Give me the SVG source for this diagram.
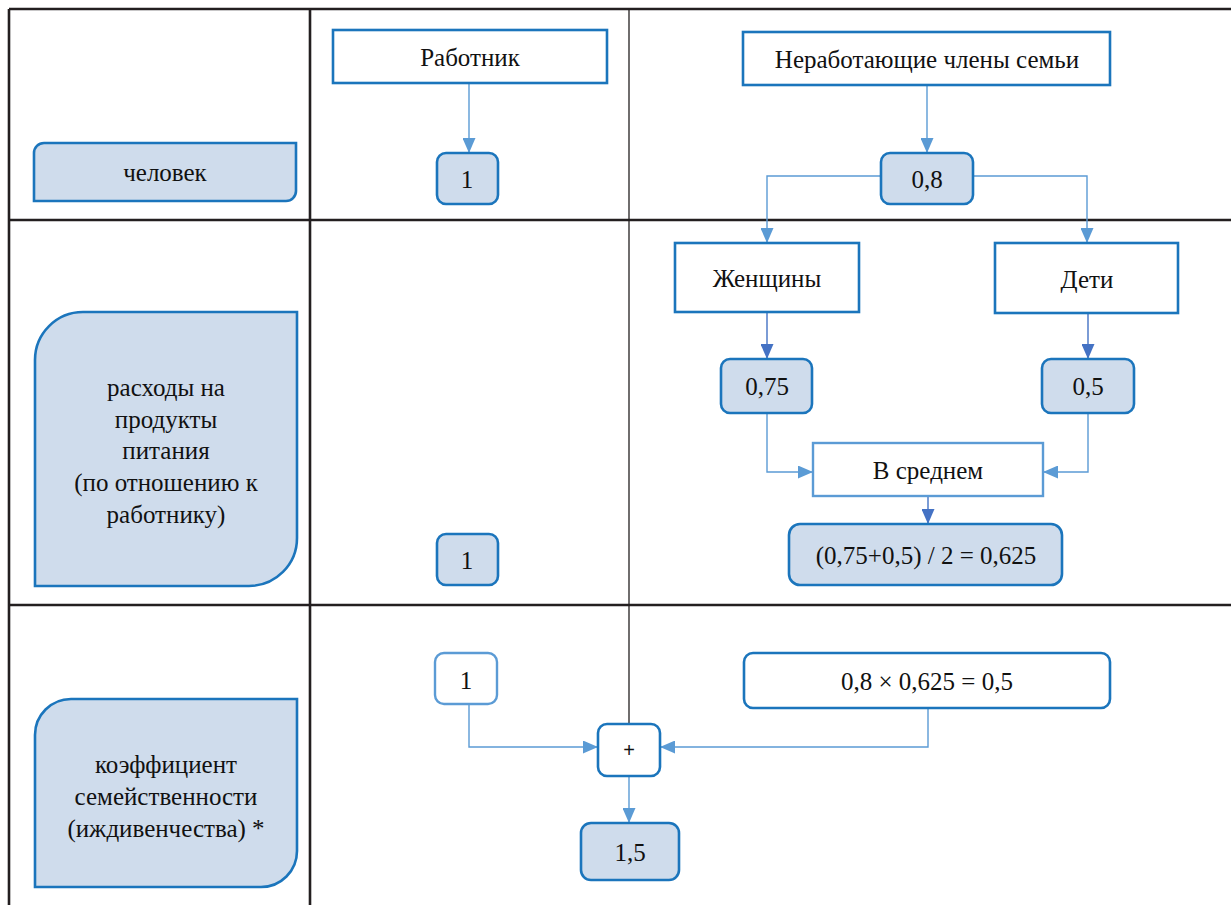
<svg xmlns="http://www.w3.org/2000/svg" width="1231" height="905" viewBox="0 0 1231 905">
<defs>
<style>
.grid{stroke:#231f20;stroke-width:2.6;fill:none}
.gridthin{stroke:#231f20;stroke-width:1.3;fill:none}
.box{fill:#ffffff;stroke:#1b75bc;stroke-width:2.6}
.boxl{fill:#ffffff;stroke:#5b9bd5;stroke-width:2.4}
.val{fill:#cfdcec;stroke:#1b75bc;stroke-width:2.6}
.lab{fill:#cfdcec;stroke:#1b75bc;stroke-width:2.6}
.t{font-family:'Liberation Serif','DejaVu Serif',serif;font-size:25px;fill:#111;text-anchor:middle}
.tp{font-family:'Liberation Sans','DejaVu Sans',sans-serif;font-size:20px;fill:#111;text-anchor:middle}
.c{fill:none;stroke:#5b9bd5;stroke-width:1.4}
.cd{fill:none;stroke:#4472c4;stroke-width:1.4}
</style>
<marker id="al" markerUnits="userSpaceOnUse" markerWidth="15" markerHeight="13" refX="15" refY="6.5" orient="auto"><path d="M0,0 L15,6.5 L0,13 Z" fill="#5b9bd5"/></marker>
<marker id="ad" markerUnits="userSpaceOnUse" markerWidth="15" markerHeight="13" refX="15" refY="6.5" orient="auto"><path d="M0,0 L15,6.5 L0,13 Z" fill="#4472c4"/></marker>
</defs>
<rect x="0" y="0" width="1231" height="905" fill="#ffffff"/>
<g id="grid">
<line class="grid" x1="9" y1="9" x2="1231" y2="9"/>
<line class="grid" x1="9" y1="220" x2="1231" y2="220"/>
<line class="grid" x1="9" y1="605" x2="1231" y2="605"/>
<line class="grid" x1="9" y1="9" x2="9" y2="905"/>
<line class="grid" x1="310" y1="9" x2="310" y2="905"/>
<line class="gridthin" x1="629" y1="9" x2="629" y2="724"/>
</g>
<g id="connectors">
<path class="c" d="M469,83 V153" marker-end="url(#al)"/>
<path class="c" d="M927,85 V153" marker-end="url(#al)"/>
<path class="c" d="M881,176 H767 V243" marker-end="url(#al)"/>
<path class="c" d="M973,176 H1087 V243" marker-end="url(#al)"/>
<path class="cd" d="M767,312 V359" marker-end="url(#ad)"/>
<path class="cd" d="M1088,313 V359" marker-end="url(#ad)"/>
<path class="c" d="M767,413 V472 H813" marker-end="url(#al)"/>
<path class="c" d="M1088,413 V472 H1043" marker-end="url(#al)"/>
<path class="cd" d="M928,496 V524" marker-end="url(#ad)"/>
<path class="c" d="M469,704 V747 H598" marker-end="url(#al)"/>
<path class="c" d="M928,708 V747 H660" marker-end="url(#al)"/>
<path class="c" d="M629,776 V823" marker-end="url(#al)"/>
</g>
<g id="n-chelovek">
<path class="lab" d="M34,153 A10,10 0 0 1 44,143 H296 V191 A10,10 0 0 1 286,201 H34 Z"/>
<text class="t" x="165" y="181">человек</text>
</g>
<g id="n-rashody">
<path class="lab" d="M35,360 A48,48 0 0 1 83,312 H297 V538 A48,48 0 0 1 249,586 H35 Z"/>
<text class="t" x="166" y="396">расходы на</text>
<text class="t" x="166" y="428">продукты</text>
<text class="t" x="166" y="459">питания</text>
<text class="t" x="166" y="491">(по отношению к</text>
<text class="t" x="166" y="523">работнику)</text>
</g>
<g id="n-koef">
<path class="lab" d="M35,735 A36,36 0 0 1 71,699 H297 V851 A36,36 0 0 1 261,887 H35 Z"/>
<text class="t" x="166" y="773">коэффициент</text>
<text class="t" x="166" y="805">семейственности</text>
<text class="t" x="166" y="837">(иждивенчества) *</text>
</g>
<g id="n-rabotnik">
<rect class="box" x="333" y="30" width="274" height="53"/>
<text class="t" x="470" y="66">Работник</text>
</g>
<g id="n-one1">
<rect class="val" x="437" y="153" width="61" height="51" rx="9"/>
<text class="t" x="467" y="188">1</text>
</g>
<g id="n-nerab">
<rect class="box" x="743" y="32" width="367" height="53"/>
<text class="t" x="927" y="68">Неработающие члены семьи</text>
</g>
<g id="n-08">
<rect class="val" x="881" y="153" width="92" height="51" rx="9"/>
<text class="t" x="927" y="188">0,8</text>
</g>
<g id="n-women">
<rect class="box" x="675" y="243" width="184" height="69"/>
<text class="t" x="767" y="287">Женщины</text>
</g>
<g id="n-children">
<rect class="box" x="995" y="243" width="183" height="70"/>
<text class="t" x="1087" y="288">Дети</text>
</g>
<g id="n-075">
<rect class="val" x="721" y="359" width="91" height="54" rx="9"/>
<text class="t" x="767" y="395">0,75</text>
</g>
<g id="n-05">
<rect class="val" x="1042" y="359" width="92" height="54" rx="9"/>
<text class="t" x="1088" y="395">0,5</text>
</g>
<g id="n-avg">
<rect class="boxl" x="813" y="443" width="230" height="53"/>
<text class="t" x="928" y="479">В среднем</text>
</g>
<g id="n-result">
<rect class="val" x="789" y="524" width="273" height="61" rx="11"/>
<text class="t" x="926" y="564">(0,75+0,5) / 2 = 0,625</text>
</g>
<g id="n-one2">
<rect class="val" x="437" y="534" width="61" height="51" rx="9"/>
<text class="t" x="467" y="569">1</text>
</g>
<g id="n-one3">
<rect class="boxl" x="435" y="653" width="62" height="51" rx="9"/>
<text class="t" x="466" y="689">1</text>
</g>
<g id="n-prod">
<rect class="box" x="744" y="653" width="366" height="55" rx="9"/>
<text class="t" x="927" y="690">0,8 × 0,625 = 0,5</text>
</g>
<g id="n-plus">
<rect class="box" x="598" y="724" width="62" height="52" rx="9"/>
<text class="tp" x="629" y="757">+</text>
</g>
<g id="n-15">
<rect class="val" x="581" y="823" width="98" height="57" rx="10"/>
<text class="t" x="630" y="861">1,5</text>
</g>
</svg>
